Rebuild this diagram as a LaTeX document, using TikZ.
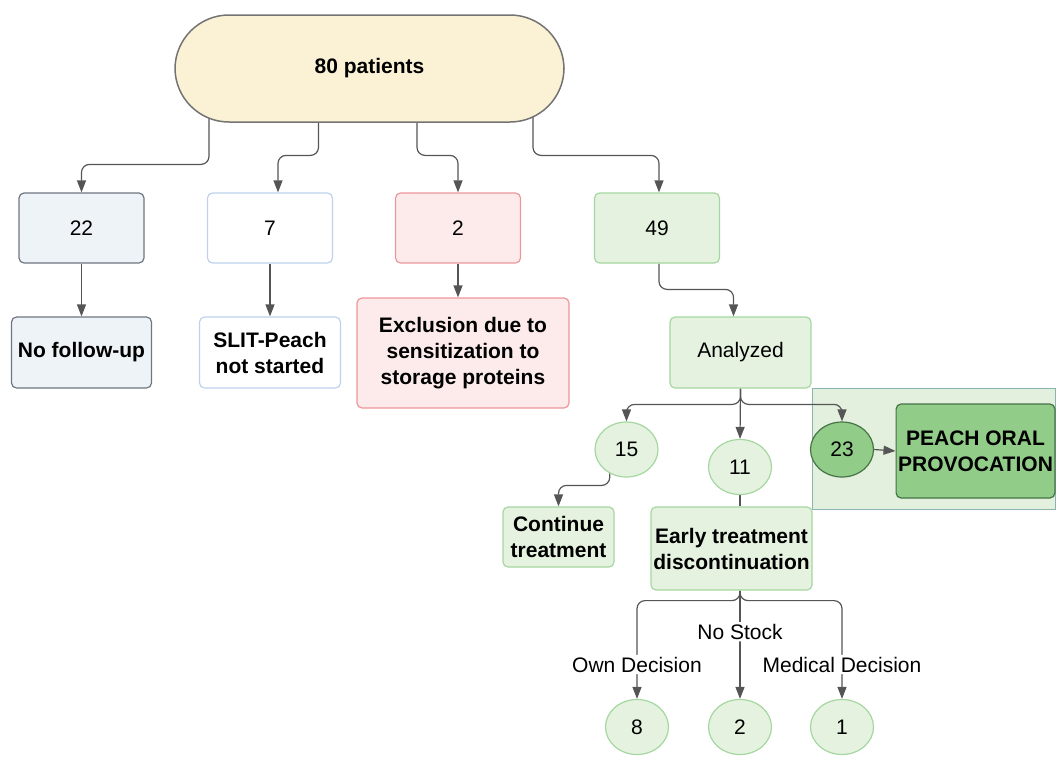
\documentclass[tikz,border=0pt]{standalone}
\usepackage{fontspec}
\setmainfont{Liberation Sans}
\usetikzlibrary{shapes.geometric, positioning, arrows.meta, backgrounds}
\definecolor{startfill}{RGB}{251,242,214}
\definecolor{startedge}{RGB}{115,115,115}
\definecolor{lostfill}{RGB}{238,243,248}
\definecolor{lostedge}{RGB}{110,118,128}
\definecolor{notedge}{RGB}{190,210,238}
\definecolor{exclfill}{RGB}{253,235,235}
\definecolor{excledge}{RGB}{236,150,155}
\definecolor{greenfill}{RGB}{229,242,224}
\definecolor{greenedge}{RGB}{165,215,160}
\definecolor{groupfill}{RGB}{226,240,221}
\definecolor{groupedge}{RGB}{140,180,175}
\definecolor{darkfill}{RGB}{145,204,136}
\definecolor{darkedge}{RGB}{70,115,70}
\definecolor{linegray}{RGB}{85,85,85}

\tikzset{
  box/.style={draw, rectangle, rounded corners=5pt, line width=1.2pt, align=center, inner sep=2pt, minimum width=125pt, minimum height=70pt},
  greenbox/.style={fill=greenfill, draw=greenedge},
  dot/.style={draw, ellipse, line width=1.2pt, inner sep=0pt, minimum width=63pt, minimum height=55pt},
  bold/.style={font=\fontsize{21}{26}\selectfont\bfseries},
  conn/.style={draw=linegray, line width=1.2pt, rounded corners=8pt, -{Triangle[length=12pt,width=9pt]}},
  lbl/.style={fill=white, inner sep=2pt}
}

\begin{document}
\begin{tikzpicture}[x=1pt, y=-1pt, font=\fontsize{21}{26}\selectfont]
\useasboundingbox (0,0) rectangle (1057,756);

% top level
\node[draw=startedge, fill=startfill, line width=1.5pt, rounded corners=54pt, minimum width=389pt, minimum height=107pt, bold] (top) at (369.5,68.5) {80 patients};
\node[box, fill=lostfill, draw=lostedge] (n22) at (81.5,228) {22};
\node[box, fill=white, draw=notedge, right of=n22, node distance=188.5pt] (n7) {7};
\node[box, fill=exclfill, draw=excledge, right of=n7, node distance=188pt] (n2) {2};
\node[box, greenbox, right of=n2, node distance=199pt] (n49) {49};

% second row
\node[box, fill=lostfill, draw=lostedge, minimum width=140pt, minimum height=71pt, bold, below of=n22, node distance=124.5pt] (nofollow) {No follow-up};
\node[box, fill=white, draw=notedge, minimum width=141pt, minimum height=71pt, bold, below of=n7, node distance=124.5pt] (slit) {SLIT-Peach\\not started};
\node[box, fill=exclfill, draw=excledge, minimum width=212pt, minimum height=110pt, bold] (excl) at (463,353) {Exclusion due to\\sensitization to\\storage proteins};
\node[box, greenbox, minimum width=141pt, minimum height=71pt] (analyzed) at (740.5,352.5) {Analyzed};

% outcomes
\node[dot, greenbox] (c15) at (626.5,449.5) {15};
\node[dot, greenbox] (c11) at (740,467) {11};
\node[dot, fill=darkfill, draw=darkedge] (c23) at (842,449.5) {23};
\node[box, fill=darkfill, draw=darkedge, minimum width=153pt, minimum height=94pt, bold] (peach) at (975.5,451) {PEACH ORAL\\PROVOCATION};
\node[box, greenbox, minimum width=111pt, minimum height=60pt, bold] (cont) at (558.5,537) {Continue\\treatment};
\node[box, greenbox, minimum width=161pt, minimum height=83pt, bold] (early) at (731.5,548.5) {Early treatment\\discontinuation};

\node[dot, greenbox] (c8) at (637,727) {8};
\node[dot, greenbox] (c2) at (740,727) {2};
\node[dot, greenbox] (c1) at (842,727) {1};

\begin{pgfonlayer}{background}
\node[draw=groupedge, fill=groupfill, line width=1pt, minimum width=243pt, minimum height=121pt] (grp) at (933.5,448.5) {};

\draw[conn] ([xshift=-160.5pt]top.center) |- ([yshift=28pt]n22.north) -- (n22.north);
\draw[conn] ([xshift=-51pt]top.center) |- ([xshift=8pt,yshift=37pt]n7.north) -- ([xshift=8pt]n7.north);
\draw[conn] ([xshift=47.5pt]top.center) |- ([yshift=37pt]n2.north) -- (n2.north);
\draw[conn] ([xshift=163.5pt]top.center) |- ([xshift=2pt,yshift=37pt]n49.north) -- ([xshift=2pt]n49.north);

\draw[conn] (n22) -- (nofollow);
\draw[conn] (n7) -- (slit);
\draw[conn] (n2) -- (n2 |- excl.north);
\draw[conn] ([xshift=2pt]n49.south) |- ([xshift=-7pt,yshift=27pt]analyzed.north) -- ([xshift=-7pt]analyzed.north);

\draw[conn] (analyzed.south) |- ([yshift=17pt]c15.north) -- (c15.north);
\draw[conn] (analyzed.south) -- (c11.north);
\draw[conn] (analyzed.south) |- ([yshift=17pt]c23.north) -- (c23.north);
\draw[conn] (c23.east) -- (peach.west);
\draw[conn] (c15.-125) |- ([yshift=21pt]cont.north) -- (cont.north);
\draw[draw=linegray, line width=1.2pt] (c11.south) -- (c11.south |- early.north);

\draw[conn] (early.south -| c2) -- ++(0,10) -| node[lbl, pos=0.825] {Own Decision} (c8.north);
\draw[conn] (early.south -| c2) -- node[lbl, pos=0.38] {No Stock} (c2.north);
\draw[conn] (early.south -| c2) -- ++(0,10) -| node[lbl, pos=0.825] {Medical Decision} (c1.north);
\end{pgfonlayer}
\end{tikzpicture}
\end{document}
